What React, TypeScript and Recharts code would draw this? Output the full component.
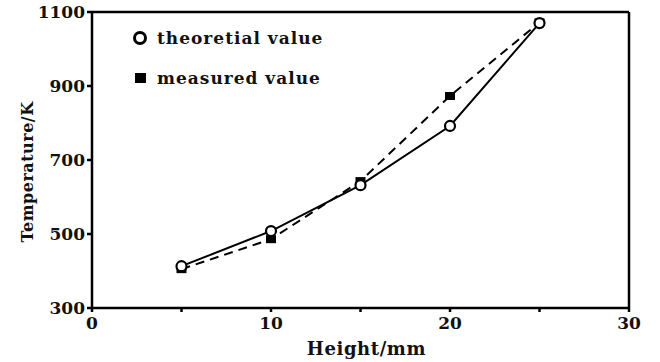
import {
  Line,
  LineChart,
  ReferenceLine,
  XAxis,
  YAxis,
} from "recharts";

const heights = [5, 10, 15, 20, 25];
const theoretical = [413, 508, 632, 792, 1070];
const measured = [405, 486, 643, 873, 1072];
const xTicks = [0, 5, 10, 15, 20, 25, 30];
const yTicks = [300, 500, 700, 900, 1100];

const data = heights.map((h, i) => ({
  height: h,
  theoretical: theoretical[i],
  measured: measured[i],
}));

const font = "'DejaVu Serif', serif";

function CircleDot(props: any) {
  const { cx, cy } = props;
  if (cx == null || cy == null) return null;
  return <circle cx={cx} cy={cy} r={5} fill="#fff" stroke="#000" strokeWidth={2.2} />;
}

function SquareDot(props: any) {
  const { cx, cy } = props;
  if (cx == null || cy == null) return null;
  return <rect x={cx - 5} y={cy - 4} width={10} height={8} fill="#000" />;
}

// legend sits inside the plot, top-left
function LegendBox() {
  const row = { display: "flex", alignItems: "center", height: 40 } as const;
  const text = {
    fontFamily: font,
    fontWeight: 700,
    fontSize: 17,
    letterSpacing: 1,
    color: "#111",
    marginLeft: 9,
  };
  return (
    <div style={{ position: "absolute", left: 132, top: 18 }}>
      <div style={row}>
        <svg width={16} height={16}>
          <circle cx={8} cy={8} r={5.5} fill="#fff" stroke="#000" strokeWidth={3} />
        </svg>
        <span style={text}>theoretial value</span>
      </div>
      <div style={row}>
        <svg width={16} height={16}>
          <rect x={3} y={3} width={11} height={10} fill="#000" />
        </svg>
        <span style={text}>measured value</span>
      </div>
    </div>
  );
}

export default function App() {
  return (
    <div style={{ position: "absolute", left: 0, top: 0, width: 660, height: 362, background: "#fff" }}>
      <LineChart
        width={660}
        height={362}
        data={data}
        margin={{ top: 12, right: 31, bottom: 0, left: 0 }}
      >
        <XAxis
          dataKey="height"
          type="number"
          domain={[0, 30]}
          ticks={xTicks}
          interval={0}
          tickFormatter={(v: number) => (v % 10 === 0 ? String(v) : "")}
          height={54}
          stroke="#000"
          strokeWidth={2.5}
          tickSize={4}
          tickMargin={5}
          tick={{ fill: "#111", fontFamily: font, fontWeight: 700, fontSize: 17 }}
          label={{
            value: "Height/mm",
            position: "insideBottom",
            offset: 7,
            dx: 6,
            fill: "#111",
            fontFamily: font,
            fontWeight: 700,
            fontSize: 18,
            letterSpacing: 0.6,
          }}
        />
        <YAxis
          type="number"
          domain={[300, 1100]}
          ticks={yTicks}
          interval={0}
          width={92}
          stroke="#000"
          strokeWidth={2.5}
          tickSize={5}
          tickMargin={2}
          tick={{ fill: "#111", fontFamily: font, fontWeight: 700, fontSize: 17 }}
          label={{
            value: "Temperature/K",
            angle: -90,
            position: "insideLeft",
            offset: 27,
            dy: 12,
            style: { textAnchor: "middle" },
            fill: "#111",
            fontFamily: font,
            fontWeight: 700,
            fontSize: 16,
            letterSpacing: 0.5,
          }}
        />
        <ReferenceLine y={1100} stroke="#000" strokeWidth={2.5} />
        <ReferenceLine x={30} stroke="#000" strokeWidth={2.5} />
        <Line
          dataKey="measured"
          name="measured value"
          type="linear"
          stroke="#000"
          strokeWidth={2}
          strokeDasharray="9 6"
          dot={<SquareDot />}
          isAnimationActive={false}
        />
        <Line
          dataKey="theoretical"
          name="theoretial value"
          type="linear"
          stroke="#000"
          strokeWidth={2}
          dot={<CircleDot />}
          isAnimationActive={false}
        />
      </LineChart>
      <LegendBox />
    </div>
  );
}
